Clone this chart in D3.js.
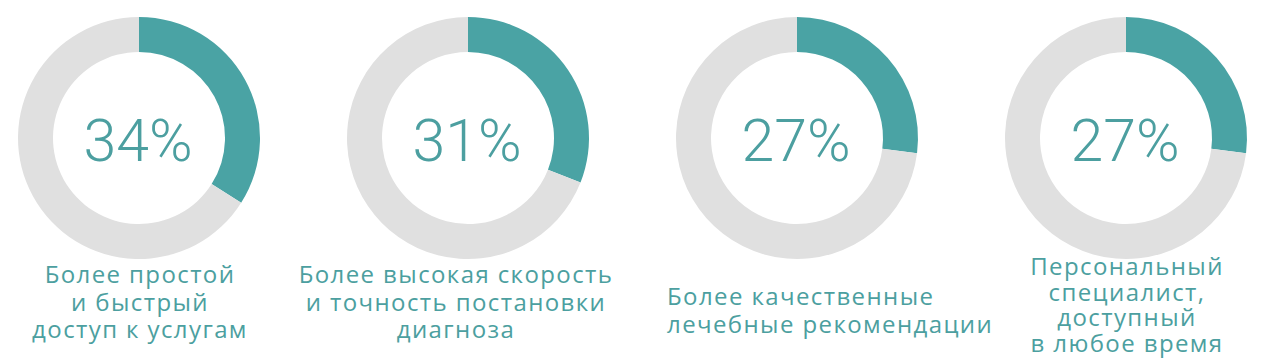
<!DOCTYPE html>
<html>
<head>
<meta charset="utf-8">
<script src="https://cdn.jsdelivr.net/npm/d3@7"></script>
<style>
  body { margin: 0; background: #fff; }
  svg { display: block; }
</style>
</head>
<body>
<div class="box"></div>
<script>
// data
const values = [34, 31, 27, 27]
const labels = [
    ['Более простой', 'и быстрый', 'доступ к услугам'],
    ['Более высокая скорость', 'и точность постановки', 'диагноза'],
    ['Более качественные', 'лечебные рекомендации'],
    ['Персональный', 'специалист,', 'доступный', 'в любое время']
]

// layout of the caption under each ring
const captionLayout = [
    { anchor: 'middle', dx: 1, y0: 283, lh: 27.5 },
    { anchor: 'middle', dx: -12, y0: 283, lh: 27.5 },
    { anchor: 'start', dx: -130, y0: 305, lh: 27.5 },
    { anchor: 'middle', dx: 1, y0: 275, lh: 25.7 }
]

const W = 1280, H = 362
const teal = '#4aa3a4'
const grey = '#e0e0e0'
const textColor = '#4c9fa0'

let svg = d3.select('.box')
    .append('svg')
    .attr('width', W)
    .attr('height', H)

let x = d3.scaleLinear().domain([0, values.length - 1]).range([139, 1126])
let cy = 138

let pie = d3.pie().sort(null).value(d => d)
let arc = d3.arc().innerRadius(86).outerRadius(121)

values.forEach((v, i) => {
    let g = svg.append('g').attr('transform', `translate(${x(i)},${cy})`)
    g.selectAll('path')
        .data(pie([v, 100 - v]))
        .join('path')
        .attr('d', arc)
        .attr('fill', (d, k) => k == 0 ? teal : grey)

    g.append('text')
        .attr('x', -1)
        .attr('y', 23)
        .attr('text-anchor', 'middle')
        .style('font-family', 'Roboto, sans-serif')
        .style('font-weight', 300)
        .style('font-size', '59px')
        .style('fill', textColor)
        .text(v + '%')

    let c = captionLayout[i]
    let t = svg.append('text')
        .attr('text-anchor', c.anchor)
        .style('font-family', '"Open Sans", sans-serif')
        .style('font-size', '24px')
        .style('letter-spacing', '1.4px')
        .style('fill', textColor)
    labels[i].forEach((line, j) => {
        t.append('tspan')
            .attr('x', x(i) + c.dx)
            .attr('y', c.y0 + j * c.lh)
            .text(line)
    })
})
</script>
</body>
</html>
